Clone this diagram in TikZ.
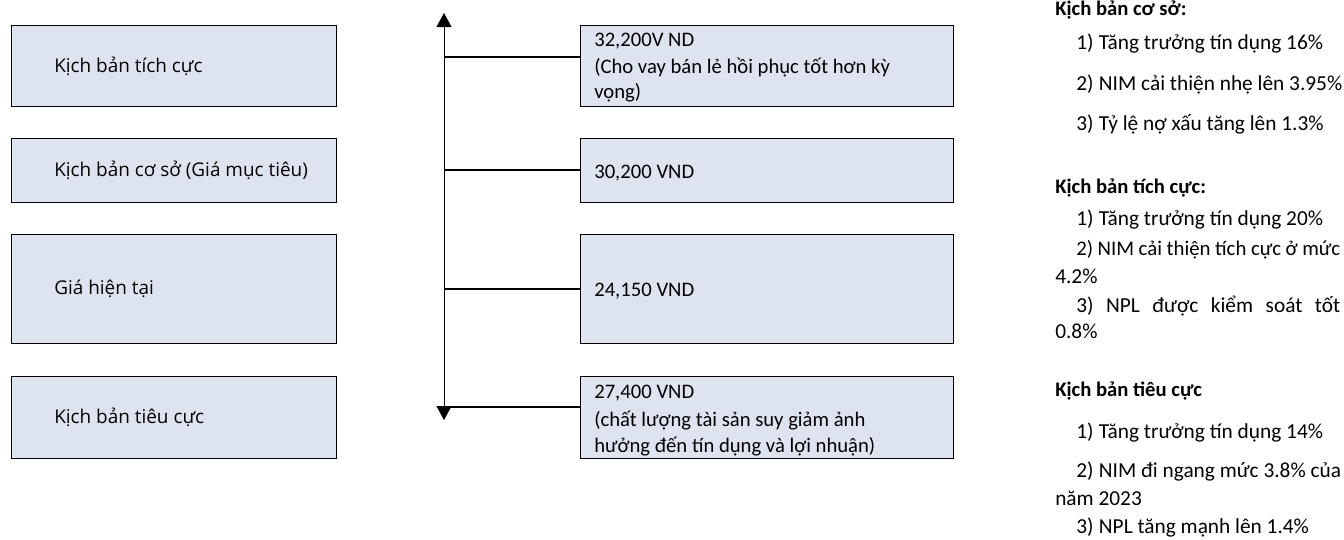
\documentclass[tikz,border=0pt]{standalone}
\usepackage{fontspec}
\setmainfont{Carlito}
\newfontfamily\leftfont{Open Sans}
\usetikzlibrary{arrows.meta}
\definecolor{boxfill}{HTML}{DEE4EF}
\newcommand{\numbox}[1]{\makebox[17pt][l]{#1}}
\begin{document}
\begin{tikzpicture}[x=0.75pt,y=-0.75pt,
  box/.style={draw=black,line width=1.1pt,fill=boxfill,anchor=north west,
    minimum height=#1*0.75pt,inner sep=0pt},
  lbox/.style={box=#1,minimum width=325*0.75pt},
  mbox/.style={box=#1,minimum width=373*0.75pt},
  ltext/.style={font=\leftfont\fontsize{14.2}{17}\selectfont,anchor=west,inner sep=0pt},
  mtext/.style={font=\fontsize{15.5}{19}\selectfont,anchor=base west,inner sep=0pt},
  mctext/.style={font=\fontsize{15.5}{19}\selectfont,anchor=west,inner sep=0pt},
  rtext/.style={font=\fontsize{16}{20}\selectfont,anchor=base west,inner sep=0pt},
  rhead/.style={font=\bfseries\fontsize{15.5}{19}\selectfont,anchor=base west,inner sep=0pt},
  link/.style={line width=1pt},
  axis/.style={line width=0.6pt,{Triangle[length=10.5pt,width=11.25pt]}-{Triangle[length=10.5pt,width=11.25pt]}}]
\useasboundingbox (0,0) rectangle (1344,539);

% left column
\node[lbox=81]  (L1) at (11,25)  {};
\node[lbox=64]  (L2) at (11,138) {};
\node[lbox=109] (L3) at (11,234) {};
\node[lbox=82]  (L4) at (11,376) {};
\node[ltext] (l1) at ([xshift=32.25pt]L1.west) {Kịch bản tích cực};
\node[ltext] (l2) at ([xshift=32.25pt]L2.west) {Kịch bản cơ sở (Giá mục tiêu)};
\node[ltext] (l3) at ([xshift=32.25pt]L3.west) {Giá hiện tại};
\node[ltext] (l4) at ([xshift=32.25pt]L4.west) {Kịch bản tiêu cực};

% middle column
\node[mbox=81]  (M1) at (580,25)  {};
\node[mbox=64]  (M2) at (580,138) {};
\node[mbox=109] (M3) at (580,234) {};
\node[mbox=82]  (M4) at (580,376) {};
\node[mtext] (m1a) at (594,46) {32,200V ND};
\node[mtext] (m1b) at (594,73) {(Cho vay bán lẻ hồi phục tốt hơn kỳ};
\node[mtext] (m1c) at (594,98) {vọng)};
\node[mctext] (m2) at ([xshift=10.5pt,yshift=-1.5pt]M2.west) {30,200 VND};
\node[mctext] (m3) at ([xshift=10.5pt,yshift=-1.5pt]M3.west) {24,150 VND};
\node[mtext] (m4a) at (594,398) {27,400 VND};
\node[mtext] (m4b) at (594,426) {(chất lượng tài sản suy giảm ảnh};
\node[mtext] (m4c) at (594,452) {hưởng đến tín dụng và lợi nhuận)};

% axis
\coordinate (top) at (444,13);
\coordinate (bot) at (444,420);
\draw[axis] (bot) -- (top);
\coordinate (a1) at (444,57);
\coordinate (a2) at (444,170);
\coordinate (a3) at (444,289);
\coordinate (a4) at (444,407);
\draw[link] (a1) -- (a1 -| M1.west);
\draw[link] (a2) -- (a2 -| M2.west);
\draw[link] (a3) -- (a3 -| M3.west);
\draw[link] (a4) -- (a4 -| M4.west);

% right column
\node[rhead] (h1) at (1055,16) {Kịch bản cơ sở:};
\node[rtext] (r11) at (1076,49) {\numbox{1)}Tăng trưởng tín dụng 16\%};
\node[rtext] (r12) at (1076,90) {\numbox{2)}NIM cải thiện nhẹ lên 3.95\%};
\node[rtext] (r13) at (1076,130) {\numbox{3)}Tỷ lệ nợ xấu tăng lên 1.3\%};

\node[rhead] (h2) at (1055,193) {Kịch bản tích cực:};
\node[rtext] (r21) at (1076,225) {\numbox{1)}Tăng trưởng tín dụng 20\%};
\node[rtext,font=\fontsize{15.6}{19}\selectfont] (r22) at (1076,255) {\makebox[198pt][s]{2) NIM cải thiện tích cực ở mức}};
\node[rtext] (r22b) at (1055,283) {4.2\%};
\node[rtext] (r23) at (1076,312) {\makebox[198pt][s]{3) NPL được kiểm soát tốt}};
\node[rtext] (r23b) at (1055,338) {0.8\%};

\node[rhead] (h3) at (1055,396) {Kịch bản tiêu cực};
\node[rtext] (r31) at (1076,438) {\numbox{1)}Tăng trưởng tín dụng 14\%};
\node[rtext] (r32) at (1076,477) {\numbox{2)}NIM đi ngang mức 3.8\% của};
\node[rtext] (r32b) at (1055,505) {năm 2023};
\node[rtext] (r33) at (1076,533) {\numbox{3)}NPL tăng mạnh lên 1.4\%};
\end{tikzpicture}
\end{document}
